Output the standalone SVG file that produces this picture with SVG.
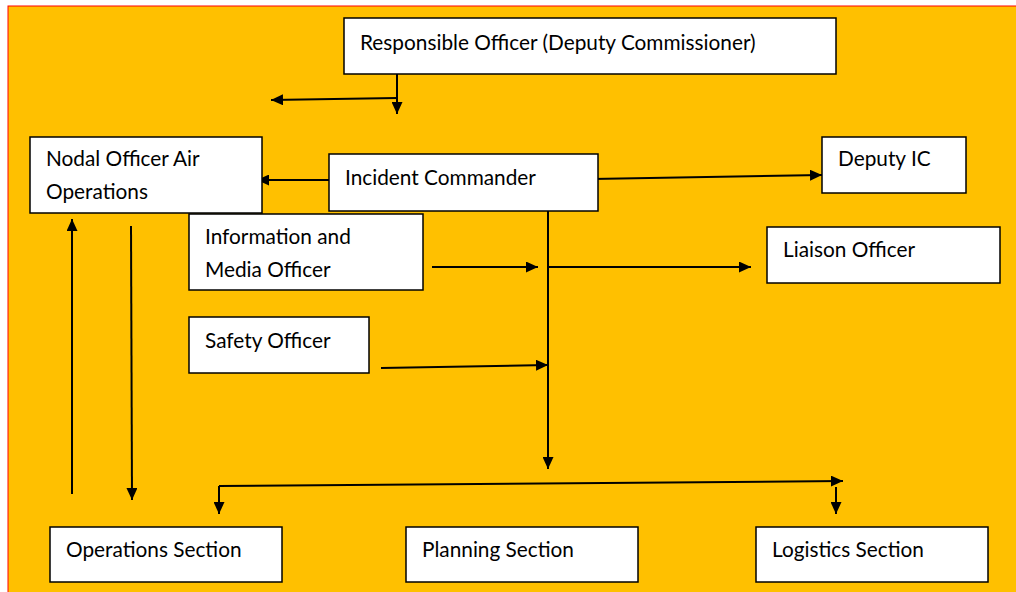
<svg xmlns="http://www.w3.org/2000/svg" width="1016" height="592" viewBox="0 0 1016 592">
  <defs>
    <marker id="arrow" markerUnits="userSpaceOnUse" markerWidth="12" markerHeight="11" refX="12" refY="5.5" orient="auto">
      <path d="M0,0 L12,5.5 L0,11 Z" fill="#000"/>
    </marker>
    <style>
      .box { fill: #fff; stroke: #000; stroke-width: 1.5; }
      .lbl { font-family: Lato, "Liberation Sans", sans-serif; font-size: 20.8px; fill: #000; }
      .conn path { fill: none; stroke: #000; stroke-width: 2; }
      .conn .arr { marker-end: url(#arrow); }
    </style>
  </defs>

  <!-- page background -->
  <rect x="8" y="6" width="1020" height="600" fill="#FFC000" stroke="#FF0000" stroke-width="1"/>

  <!-- connectors -->
  <g id="connectors" class="conn">
    <path class="arr" d="M397,74 L397,114"/>
    <path class="arr" d="M397,98 L271,100"/>
    <path class="arr" d="M329,180 L257,180"/>
    <path class="arr" d="M592,179 L822,175"/>
    <path class="arr" d="M548,202 L548,469"/>
    <path class="arr" d="M432,267 L538,267"/>
    <path class="arr" d="M548,267 L751,267"/>
    <path class="arr" d="M381,368 L548,365"/>
    <path class="arr" d="M72,494 L72,219"/>
    <path class="arr" d="M131,226 L132,500"/>
    <path class="arr" d="M219,486 L843,481"/>
    <path class="arr" d="M219,486 L219,514"/>
    <path class="arr" d="M836,487 L836,514"/>
  </g>

  <!-- nodes -->
  <g id="responsible-officer">
    <rect class="box" x="344" y="18" width="492" height="56"/>
    <text class="lbl" x="360" y="50">Responsible Officer (Deputy Commissioner)</text>
  </g>
  <g id="nodal-officer">
    <rect class="box" x="30" y="137" width="232" height="76"/>
    <text class="lbl" x="46" y="166">Nodal Officer Air</text>
    <text class="lbl" x="46" y="199">Operations</text>
  </g>
  <g id="incident-commander">
    <rect class="box" x="329" y="154" width="269" height="57"/>
    <text class="lbl" x="345" y="185">Incident Commander</text>
  </g>
  <g id="deputy-ic">
    <rect class="box" x="822" y="137" width="144" height="56"/>
    <text class="lbl" x="838" y="166">Deputy IC</text>
  </g>
  <g id="information-media-officer">
    <rect class="box" x="189" y="214" width="234" height="76"/>
    <text class="lbl" x="205" y="244">Information and</text>
    <text class="lbl" x="205" y="277">Media Officer</text>
  </g>
  <g id="liaison-officer">
    <rect class="box" x="767" y="227" width="233" height="56"/>
    <text class="lbl" x="783" y="257">Liaison Officer</text>
  </g>
  <g id="safety-officer">
    <rect class="box" x="189" y="317" width="180" height="56"/>
    <text class="lbl" x="205" y="348">Safety Officer</text>
  </g>
  <g id="operations-section">
    <rect class="box" x="50" y="527" width="232" height="55"/>
    <text class="lbl" x="66" y="557">Operations Section</text>
  </g>
  <g id="planning-section">
    <rect class="box" x="406" y="527" width="232" height="55"/>
    <text class="lbl" x="422" y="557">Planning Section</text>
  </g>
  <g id="logistics-section">
    <rect class="box" x="756" y="527" width="232" height="55"/>
    <text class="lbl" x="772" y="557">Logistics Section</text>
  </g>
</svg>
